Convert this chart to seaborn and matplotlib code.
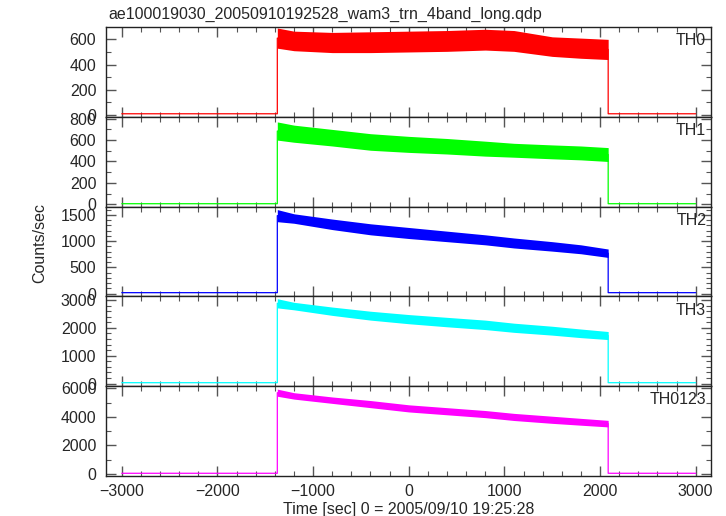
import numpy as np
import pandas as pd
import matplotlib
matplotlib.use("Agg")
import matplotlib.pyplot as plt
from matplotlib.ticker import MultipleLocator
import seaborn as sns

# time range of the observation (seconds from 2005/09/10 19:25:28)
t_start = -3000
t_on = -1374
t_off = 2085
t_end = 3000

# knots inside the on-period where the noise band edges were read
t_knots = [-1374, -1200, -800, -400, 0, 400, 800, 1100, 1500, 1800, 2085]

bands = ["TH0", "TH1", "TH2", "TH3", "TH0123"]
colors = ["#ff0000", "#00ff00", "#0000ff", "#00ffff", "#ff00ff"]
baseline = [10, 5, 20, 30, 50]

upper = {
    "TH0": [690, 665, 655, 660, 665, 670, 680, 670, 620, 610, 600],
    "TH1": [770, 740, 700, 660, 635, 615, 590, 570, 555, 545, 530],
    "TH2": [1600, 1520, 1420, 1330, 1260, 1190, 1120, 1060, 990, 930, 850],
    "TH3": [3050, 2920, 2750, 2600, 2480, 2380, 2280, 2170, 2060, 1960, 1870],
    "TH0123": [5950, 5700, 5400, 5150, 4850, 4650, 4450, 4250, 4050, 3900, 3760],
}
lower = {
    "TH0": [530, 510, 495, 495, 500, 505, 515, 505, 465, 450, 440],
    "TH1": [600, 580, 545, 505, 485, 470, 450, 440, 425, 415, 400],
    "TH2": [1370, 1340, 1220, 1120, 1050, 990, 930, 870, 810, 760, 690],
    "TH3": [2720, 2650, 2450, 2280, 2150, 2040, 1940, 1840, 1740, 1650, 1580],
    "TH0123": [5450, 5250, 4950, 4650, 4350, 4150, 3950, 3750, 3550, 3420, 3300],
}

ylims = [(-14, 698), (-22, 818), (-51, 1657), (-96, 3133), (-141, 6155)]
y_major = [200, 200, 500, 1000, 2000]
y_minor = [100, 100, 100, 200, 1000]


def main():
    sns.set_style("ticks")
    plt.rcParams["font.family"] = ["Liberation Sans", "DejaVu Sans"]
    plt.rcParams["font.size"] = 11.5

    fig, axes = plt.subplots(5, 1, figsize=(7.26, 5.16), dpi=100, sharex=True)
    fig.subplots_adjust(left=106 / 726, right=711 / 726, top=1 - 27 / 516,
                        bottom=1 - 476 / 516, hspace=0)

    for i, (ax, name) in enumerate(zip(axes, bands)):
        col = colors[i]
        mid = [(u + l) / 2 for u, l in zip(upper[name], lower[name])]
        # step-shaped light curve: off, rise, on-period, fall, off
        df = pd.DataFrame({
            "t": [t_start, t_on, t_on] + t_knots + [t_off, t_end],
            "rate": [baseline[i], baseline[i], mid[0]] + mid + [baseline[i], baseline[i]],
        })
        sns.lineplot(data=df, x="t", y="rate", ax=ax, color=col, lw=0.9,
                     sort=False, estimator=None)
        ax.fill_between(t_knots, lower[name], upper[name], color=col, lw=0)

        ax.set_ylim(*ylims[i])
        ax.set_xlim(-3165, 3160)
        ax.yaxis.set_major_locator(MultipleLocator(y_major[i]))
        ax.yaxis.set_minor_locator(MultipleLocator(y_minor[i]))
        ax.xaxis.set_major_locator(MultipleLocator(1000))
        ax.xaxis.set_minor_locator(MultipleLocator(200))
        ax.tick_params(which="both", direction="in", top=True, right=True,
                       color="#555555", labelsize=11.5)
        ax.tick_params(axis="y", which="major", pad=7)
        ax.tick_params(axis="x", which="major", pad=6)
        ax.tick_params(which="major", length=7, width=1)
        ax.tick_params(which="minor", length=3.5, width=0.8)
        for sp in ax.spines.values():
            sp.set_linewidth(1.0)
            sp.set_color("#222222")
        ax.set_xlabel("")
        ax.set_ylabel("")
        ax.text(0.992, 0.93, name, transform=ax.transAxes, ha="right", va="top",
                fontsize=11.5)

    axes[-1].set_xlabel("Time [sec] 0 = 2005/09/10 19:25:28", fontsize=11.5, labelpad=2)
    fig.text(0.055, (516 - 243) / 516, "Counts/sec", rotation=90, ha="center",
             va="center", fontsize=11.5)
    fig.text(108 / 726, 1 - 14 / 516, "ae100019030_20050910192528_wam3_trn_4band_long.qdp",
             ha="left", va="center", fontsize=11.5)

    fig.savefig("out.png", dpi=100)
    plt.close(fig)


if __name__ == "__main__":
    main()
